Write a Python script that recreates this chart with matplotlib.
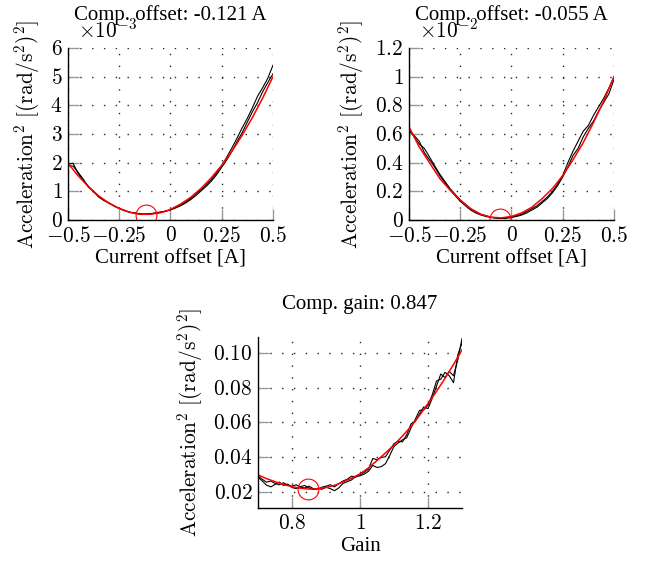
import numpy as np
import matplotlib
matplotlib.use("Agg")
import matplotlib.pyplot as plt

# Estilo parecido a pgfplots: texto Times, numeros en Computer Modern
plt.rcParams['font.family'] = ['Liberation Serif', 'DejaVu Serif']
plt.rcParams['mathtext.fontset'] = 'cm'

# ---------------- datos: offset 1 (valores x 1e-3) ----------------
offset_x = np.linspace(-0.5, 0.5, 41)
offset1_sweep_a = [1.95, 1.98, 1.62, 1.38, 1.18, 0.98, 0.82, 0.70, 0.58, 0.50,
                   0.40, 0.33, 0.28, 0.24, 0.21, 0.20, 0.21, 0.23, 0.27, 0.30,
                   0.36, 0.44, 0.52, 0.63, 0.76, 0.92, 1.07, 1.22, 1.42, 1.64,
                   1.90, 2.20, 2.52, 2.86, 3.22, 3.55, 3.92, 4.32, 4.62, 4.95, 5.40]
offset1_sweep_b = [1.90, 1.88, 1.66, 1.42, 1.14, 1.00, 0.80, 0.68, 0.60, 0.48,
                   0.41, 0.34, 0.27, 0.25, 0.22, 0.21, 0.22, 0.25, 0.28, 0.31,
                   0.35, 0.42, 0.50, 0.60, 0.72, 0.86, 1.02, 1.18, 1.36, 1.58,
                   1.84, 2.10, 2.40, 2.74, 3.05, 3.42, 3.78, 4.10, 4.48, 4.80, 5.10]
fit_x = np.linspace(-0.5, 0.5, 21)
offset1_fit = [1.98, 1.54, 1.16, 0.84, 0.59, 0.40, 0.27, 0.20, 0.20, 0.25, 0.37,
               0.56, 0.80, 1.11, 1.48, 1.91, 2.40, 2.96, 3.58, 4.26, 5.00]
offset1_opt = (-0.121, 0.17)

# ---------------- datos: offset 2 (valores x 1e-2) ----------------
offset2_sweep_a = [0.64, 0.58, 0.53, 0.50, 0.44, 0.38, 0.32, 0.27, 0.22, 0.18,
                   0.14, 0.11, 0.08, 0.06, 0.04, 0.03, 0.02, 0.015, 0.012, 0.015,
                   0.02, 0.03, 0.04, 0.06, 0.08, 0.10, 0.13, 0.16, 0.20, 0.25,
                   0.31, 0.40, 0.48, 0.55, 0.62, 0.66, 0.73, 0.79, 0.85, 0.92, 1.00]
offset2_sweep_b = [0.62, 0.59, 0.55, 0.47, 0.42, 0.37, 0.31, 0.26, 0.21, 0.17,
                   0.13, 0.10, 0.07, 0.05, 0.035, 0.025, 0.018, 0.012, 0.010, 0.012,
                   0.018, 0.025, 0.035, 0.05, 0.07, 0.09, 0.12, 0.15, 0.19, 0.24,
                   0.30, 0.37, 0.45, 0.50, 0.58, 0.64, 0.69, 0.76, 0.82, 0.88, 0.98]
offset2_fit = [0.65, 0.51, 0.40, 0.29, 0.21, 0.14, 0.08, 0.04, 0.02, 0.015, 0.025,
               0.05, 0.09, 0.15, 0.22, 0.31, 0.42, 0.54, 0.68, 0.83, 1.00]
offset2_opt = (-0.055, 0.01)

# ---------------- datos: ganancia ----------------
gain_x = np.linspace(0.7, 1.3, 49)
gain_sweep_a = [0.0290, 0.0272, 0.0255, 0.0262, 0.0248, 0.0240, 0.0252, 0.0238,
                0.0232, 0.0240, 0.0226, 0.0222, 0.0232, 0.0218, 0.0214, 0.0226,
                0.0232, 0.0240, 0.0228, 0.0246, 0.0262, 0.0272, 0.0290, 0.0284,
                0.0298, 0.0312, 0.0330, 0.0392, 0.0385, 0.0398, 0.0402, 0.0440,
                0.0478, 0.0492, 0.0488, 0.0530, 0.0592, 0.0605, 0.0650, 0.0690,
                0.0680, 0.0740, 0.0810, 0.0880, 0.0860, 0.0895, 0.0870, 0.0960, 0.1085]
gain_sweep_b = [0.0285, 0.0262, 0.0238, 0.0228, 0.0242, 0.0256, 0.0236, 0.0244,
                0.0224, 0.0218, 0.0230, 0.0236, 0.0222, 0.0212, 0.0220, 0.0214,
                0.0226, 0.0218, 0.0206, 0.0222, 0.0248, 0.0258, 0.0268, 0.0288,
                0.0292, 0.0302, 0.0318, 0.0352, 0.0340, 0.0345, 0.0362, 0.0410,
                0.0462, 0.0482, 0.0500, 0.0512, 0.0568, 0.0618, 0.0670, 0.0672,
                0.0700, 0.0760, 0.0840, 0.0850, 0.0890, 0.0870, 0.0830, 0.0990, 0.1060]
gain_fit_x = np.linspace(0.7, 1.3, 25)
gain_fit = [0.0297, 0.0276, 0.0258, 0.0242, 0.0229, 0.0220, 0.0215, 0.0217,
            0.0224, 0.0237, 0.0256, 0.0278, 0.0303, 0.0338, 0.0380, 0.0424,
            0.0470, 0.0522, 0.0577, 0.0641, 0.0710, 0.0780, 0.0855, 0.0935, 0.1020]
gain_opt = (0.847, 0.0214)

# ticks
offset_ticks = [-0.5, -0.25, 0, 0.25, 0.5]
offset_ticklabels = [r'$-0.5$', r'$-0.25$', r'$0$', r'$0.25$', r'$0.5$']
y1_ticks = [0, 1, 2, 3, 4, 5, 6]
y2_ticks = [0, 0.2, 0.4, 0.6, 0.8, 1.0, 1.2]
y2_ticklabels = [r'$0$', r'$0.2$', r'$0.4$', r'$0.6$', r'$0.8$', r'$1$', r'$1.2$']
gain_ticks = [0.8, 1.0, 1.2]
gain_ticklabels = [r'$0.8$', r'$1$', r'$1.2$']
y3_ticks = [0.02, 0.04, 0.06, 0.08, 0.10]
y3_ticklabels = [r'$0.02$', r'$0.04$', r'$0.06$', r'$0.08$', r'$0.10$']

ylabel = r'$\mathrm{Acceleration}^2\ [(\mathrm{rad}/\mathrm{s}^2)^2]$'
TXT = 15      # titulos y etiquetas en Times
NUM = 15.4    # numeros en CM

fig = plt.figure(figsize=(6.45, 5.62), dpi=100)
ax1 = fig.add_axes([0.1054, 0.6085, 0.3178, 0.3060])
ax2 = fig.add_axes([0.6341, 0.6085, 0.3178, 0.3060])
ax3 = fig.add_axes([0.4000, 0.0961, 0.3163, 0.3043])


def estilo(ax, xt, xtl, yt, ytl):
    # ejes a la izquierda y abajo, como pgfplots "axis lines=left"
    ax.spines['top'].set_visible(False)
    ax.spines['right'].set_visible(False)
    for s in ('left', 'bottom'):
        ax.spines[s].set_linewidth(1.0)
    ax.set_xticks(xt)
    ax.set_xticklabels(xtl)
    ax.set_yticks(yt)
    ax.set_yticklabels(ytl)
    ax.tick_params(direction='in', length=8, width=1.0, color='0.6',
                   labelsize=NUM)
    ax.tick_params(axis='x', pad=5)
    ax.tick_params(axis='y', pad=4)
    ax.grid(True, color='0.15', linewidth=1.0, linestyle=(0, (1, 7.5)))
    ax.set_axisbelow(True)


for ax, sa, sb, fit, opt in [(ax1, offset1_sweep_a, offset1_sweep_b, offset1_fit, offset1_opt),
                             (ax2, offset2_sweep_a, offset2_sweep_b, offset2_fit, offset2_opt)]:
    ax.plot(offset_x, sa, color='black', linewidth=0.8)
    ax.plot(offset_x, sb, color='black', linewidth=0.8)
    ax.plot(fit_x, fit, color='red', linewidth=1.1)
    ax.plot([opt[0]], [opt[1]], marker='o', markersize=15, markerfacecolor='none',
            markeredgecolor='red', markeredgewidth=0.8, linestyle='none')
    ax.set_xlim(-0.5, 0.5)
    ax.set_xlabel('Current offset [A]', fontsize=TXT, labelpad=2)

ax3.plot(gain_x, gain_sweep_a, color='black', linewidth=0.8)
ax3.plot(gain_x, gain_sweep_b, color='black', linewidth=0.8)
ax3.plot(gain_fit_x, gain_fit, color='red', linewidth=1.1)
ax3.plot([gain_opt[0]], [gain_opt[1]], marker='o', markersize=15, markerfacecolor='none',
         markeredgecolor='red', markeredgewidth=0.8, linestyle='none')
ax3.set_xlim(0.7, 1.3)
ax3.set_ylim(0.0106, 0.1094)
ax3.set_xlabel('Gain', fontsize=TXT, labelpad=2)

ax1.set_ylim(0, 6)
ax2.set_ylim(0, 1.2)

estilo(ax1, offset_ticks, offset_ticklabels, y1_ticks, [f'${v}$' for v in y1_ticks])
estilo(ax2, offset_ticks, offset_ticklabels, y2_ticks, y2_ticklabels)
estilo(ax3, gain_ticks, gain_ticklabels, y3_ticks, y3_ticklabels)

ax1.set_title('Comp. offset: -0.121 A', fontsize=TXT, pad=20)
ax2.set_title('Comp. offset: -0.055 A', fontsize=TXT, pad=20)
ax3.set_title('Comp. gain: 0.847', fontsize=TXT, pad=20)

ax1.text(0.05, 1.06, r'$\times10^{-3}$', transform=ax1.transAxes, fontsize=NUM, va='baseline')
ax2.text(0.05, 1.06, r'$\times10^{-2}$', transform=ax2.transAxes, fontsize=NUM, va='baseline')

for ax, xc in [(ax1, -0.125), (ax2, -0.21), (ax3, -0.262)]:
    ax.set_ylabel(ylabel, fontsize=NUM)
    ax.yaxis.set_label_coords(xc, 0.5)

fig.savefig('out.png', dpi=100)
